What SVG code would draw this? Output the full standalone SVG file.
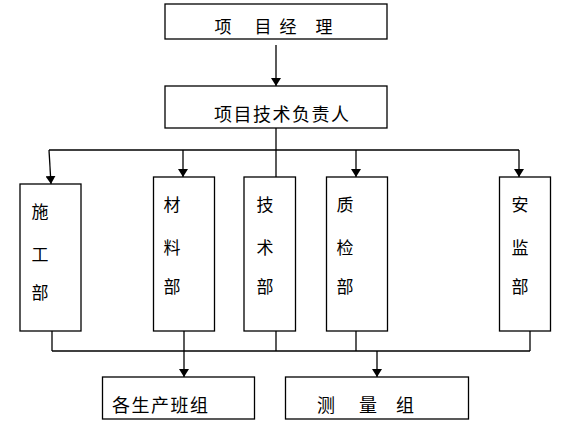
<svg xmlns="http://www.w3.org/2000/svg" width="565" height="425" viewBox="0 0 565 425">
<style>
.box{fill:#fff;stroke:#000;stroke-width:1.3}
.ln{fill:none;stroke:#000;stroke-width:1.3}
text{font-family:"Noto Sans CJK SC","Noto Sans",sans-serif;fill:#000;font-size:17px}
.h{font-size:18px;letter-spacing:1.5px}
.c{text-anchor:middle}
</style>
<defs>
<marker id="ah" viewBox="0 0 8 10" refX="8" refY="5" markerWidth="8" markerHeight="10" markerUnits="userSpaceOnUse" orient="auto">
<path d="M0,0 L8,5 L0,10 Z" fill="#000"/>
</marker>
</defs>
<rect width="565" height="425" fill="#fff"/>
<g id="connectors">
<line class="ln" x1="276" y1="45" x2="276" y2="86" marker-end="url(#ah)"/>
<line class="ln" x1="276" y1="128" x2="276" y2="150"/>
<line class="ln" x1="49" y1="150" x2="519" y2="150"/>
<line class="ln" x1="49" y1="150" x2="51" y2="184" marker-end="url(#ah)"/>
<line class="ln" x1="183" y1="150" x2="183" y2="177" marker-end="url(#ah)"/>
<line class="ln" x1="276" y1="150" x2="276" y2="185" marker-end="url(#ah)"/>
<line class="ln" x1="356" y1="150" x2="356" y2="177" marker-end="url(#ah)"/>
<line class="ln" x1="519" y1="150" x2="519" y2="177" marker-end="url(#ah)"/>
<line class="ln" x1="52" y1="324" x2="52" y2="351"/>
<line class="ln" x1="276" y1="324" x2="276" y2="351"/>
<line class="ln" x1="356" y1="324" x2="356" y2="351"/>
<line class="ln" x1="530" y1="324" x2="530" y2="351"/>
<line class="ln" x1="52" y1="351" x2="530" y2="351"/>
<line class="ln" x1="184" y1="324" x2="184" y2="377" marker-end="url(#ah)"/>
<line class="ln" x1="377" y1="351" x2="377" y2="377" marker-end="url(#ah)"/>
</g>
<g id="pm">
<rect class="box" x="165" y="4" width="222" height="35"/>
<text class="c" x="223 263 288 324" y="33">项目经理</text>
</g>
<g id="tech-lead">
<rect class="box" x="165" y="86" width="222" height="42"/>
<text class="h" x="214" y="121">项目技术负责人</text>
</g>
<g id="construction">
<rect class="box" x="20" y="184" width="61" height="147"/>
<text class="c" x="40 40 40" y="218 261 299">施工部</text>
</g>
<g id="materials">
<rect class="box" x="153.5" y="177" width="61" height="154"/>
<text class="c" x="172 172 172" y="211 254 293">材料部</text>
</g>
<g id="technical">
<rect class="box" x="244" y="177" width="51.5" height="154"/>
<text class="c" x="265 265 265" y="211 254 293">技术部</text>
</g>
<g id="quality">
<rect class="box" x="326.5" y="177" width="61" height="154"/>
<text class="c" x="345 345 345" y="211 254 293">质检部</text>
</g>
<g id="safety">
<rect class="box" x="499.5" y="177" width="51" height="154"/>
<text class="c" x="520 520 520" y="211 254 293">安监部</text>
</g>
<g id="teams">
<rect class="box" x="102.5" y="377" width="152" height="42"/>
<text class="h" x="112" y="412">各生产班组</text>
</g>
<g id="survey">
<rect class="box" x="285.5" y="377" width="183" height="42"/>
<text class="c" x="326 368 405" y="412" style="font-size:18px">测量组</text>
</g>
</svg>
